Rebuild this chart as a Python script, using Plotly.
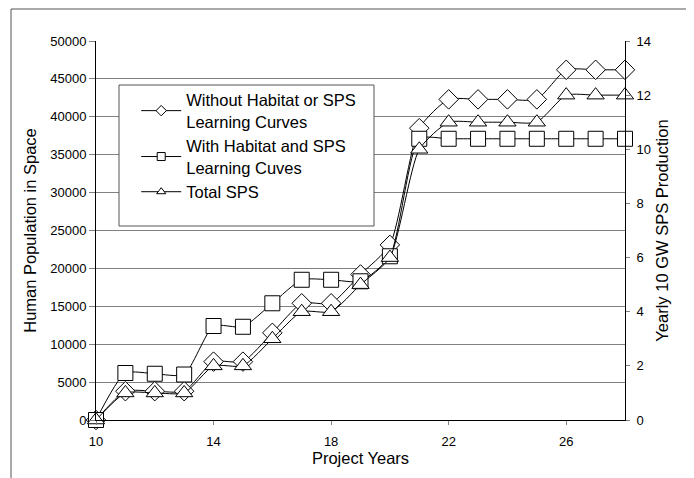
import plotly.graph_objects as go

years = [10, 11, 12, 13, 14, 15, 16, 17, 18, 19, 20, 21, 22, 23, 24, 25, 26, 27, 28]
without_habitat = [0, 3800, 3800, 3800, 7700, 7700, 11500, 15400, 15400, 19200, 23100,
                   38500, 42300, 42300, 42300, 42300, 46200, 46200, 46200]
with_habitat = [0, 6200, 6100, 6000, 12400, 12300, 15400, 18500, 18500, 18300, 21600,
                37100, 37100, 37100, 37100, 37100, 37100, 37100, 37100]
total_sps = [0, 1, 1, 1, 2, 2, 3, 4, 4, 5, 6, 10, 11, 11, 11, 11, 12, 12, 12]

names = ["Without Habitat or SPS<br>Learning Curves",
         "With Habitat and SPS<br>Learning Cuves",
         "Total SPS"]
symbols = ["diamond", "square", "triangle-up"]

FONT = "Liberation Sans, Arial, sans-serif"

fig = go.Figure()
line = dict(color="black", width=1, shape="spline", smoothing=0.6)
series = [without_habitat, with_habitat, total_sps]
for i, (vals, sym) in enumerate(zip(series, symbols)):
    fig.add_trace(go.Scatter(
        x=years, y=vals, mode="lines+markers", showlegend=False,
        yaxis="y2" if i == 2 else "y", cliponaxis=False,
        line=line,
        marker=dict(symbol=sym, size=15, color="white", line=dict(color="black", width=1)),
    ))
# legend entries with small markers
for name, sym in zip(names, symbols):
    fig.add_trace(go.Scatter(
        x=[None], y=[None], mode="lines+markers", name=name,
        line=dict(color="black", width=1),
        marker=dict(symbol=sym, size=8, color="white", line=dict(color="black", width=1)),
    ))

fig.update_layout(
    width=694, height=478,
    margin=dict(l=88, r=77, t=33, b=66),
    paper_bgcolor="white", plot_bgcolor="white",
    font=dict(family=FONT, color="black", size=13),
    showlegend=True,
    legend=dict(
        x=0.076, y=0.89, xanchor="left", yanchor="top",
        bgcolor="rgba(0,0,0,0)", borderwidth=0,
        font=dict(size=16.5, family=FONT), tracegroupgap=3,
        itemwidth=40,
    ),
    xaxis=dict(
        range=[10, 28], tickmode="array", tickvals=[10, 14, 18, 22, 26],
        showgrid=False, zeroline=False, automargin=False,
        showline=True, linecolor="black", linewidth=1,
        ticks="outside", ticklen=4, tickcolor="#808080", ticklabelstandoff=5,
        title=dict(text="Project Years", font=dict(size=16.5, family=FONT), standoff=2),
        tickfont=dict(size=13),
    ),
    yaxis=dict(
        range=[0, 50000], dtick=5000, tickformat="d",
        showgrid=True, gridcolor="#808080", gridwidth=1, zeroline=False, automargin=False,
        showline=True, linecolor="black", linewidth=1,
        ticks="outside", ticklen=6, tickcolor="#808080",
        title=dict(text="Human Population in Space", font=dict(size=16.5, family=FONT), standoff=9),
        tickfont=dict(size=13),
    ),
    yaxis2=dict(
        range=[0, 14], dtick=2, overlaying="y", side="right",
        showgrid=False, zeroline=False, automargin=False,
        showline=True, linecolor="black", linewidth=1,
        ticks="outside", ticklen=4, tickcolor="#808080", ticklabelstandoff=4,
        title=dict(text="Yearly 10 GW SPS Production", font=dict(size=16.5, family=FONT), standoff=6),
        tickfont=dict(size=13),
    ),
    shapes=[
        # legend box
        dict(type="rect", xref="paper", yref="paper",
             x0=(119 - 96) / 529, x1=(374 - 96) / 529,
             y0=(420 - 226) / 379, y1=(420 - 85) / 379,
             line=dict(color="#555555", width=1), fillcolor="white", layer="above"),
        # outer frame
        dict(type="rect", xref="paper", yref="paper",
             x0=(11 - 96) / 529, x1=(687 - 96) / 529,
             y0=-0.3, y1=(420 - 9) / 379,
             line=dict(color="#555555", width=1), fillcolor="rgba(0,0,0,0)", layer="below"),
    ],
)

fig.write_html("out.html")
